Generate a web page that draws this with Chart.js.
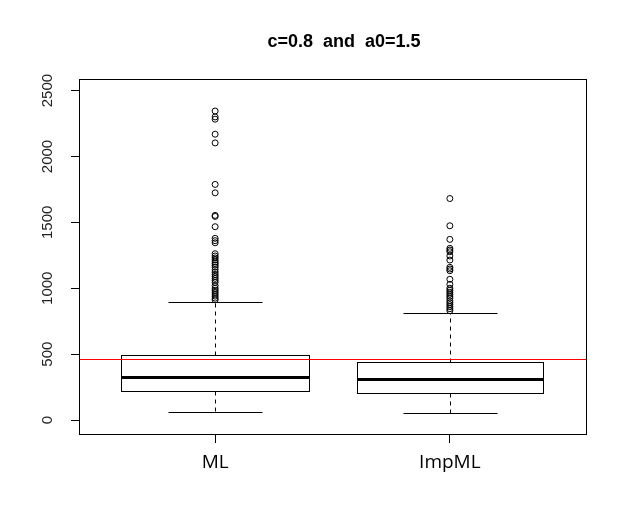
<!DOCTYPE html>
<html>
<head>
<meta charset="utf-8">
<script src="https://cdn.jsdelivr.net/npm/chart.js@4.4.0/dist/chart.umd.min.js"></script>
<style>
  html, body { margin: 0; padding: 0; background: #fff; }
  #wrap { width: 627px; height: 532px; }
</style>
</head>
<body>
<div id="wrap"><canvas id="chart"></canvas></div>
<script>
var groups = ["ML", "ImpML"];
var whiskerLow = [63, 53];
var q1 = [220, 207];
var medians = [326, 311];
var q3 = [492, 444];
var whiskerHigh = [896, 815];

var outliersML = [2345, 2300, 2283, 2169, 2103, 1788, 1724, 1553, 1545, 1467,
  1379, 1361, 1345, 1262, 1245, 1230, 1215, 1200, 1188, 1175, 1160, 1140,
  1122, 1105, 1090, 1075, 1060, 1045, 1020, 1000, 985, 970, 955, 940, 925, 912];
var outliersImpML = [1681, 1474, 1371, 1303, 1290, 1277, 1245, 1214, 1159, 1146,
  1133, 1068, 1030, 1000, 985, 970, 955, 940, 925, 905, 890, 875, 860, 845, 830];

var refLine = 462;
var yTicks = [0, 500, 1000, 1500, 2000, 2500];
var title = "c=0.8  and  a0=1.5";

function toPoints(g, vals) {
  return vals.map(function (v) { return { x: g, y: v }; });
}

// snap to the middle of a pixel so 1px lines stay crisp
function px(v) { return Math.round(v) + 0.5; }

// boxes, whiskers, reference line, frame and title
var boxPlugin = {
  id: 'boxes',
  beforeDatasetsDraw: function (chart) {
    var ctx = chart.ctx, xs = chart.scales.x, ys = chart.scales.y;
    ctx.save();
    ctx.strokeStyle = '#000';
    groups.forEach(function (g, i) {
      var cx = px(xs.getPixelForValue(i + 1));
      var hw = Math.round(xs.getPixelForValue(i + 1.4) - cx);
      var cw = Math.round(hw / 2);
      var top = px(ys.getPixelForValue(q3[i])), bot = px(ys.getPixelForValue(q1[i]));
      var hi = px(ys.getPixelForValue(whiskerHigh[i])), lo = px(ys.getPixelForValue(whiskerLow[i]));
      var med = Math.round(ys.getPixelForValue(medians[i]));
      // dashed whiskers
      ctx.lineWidth = 1;
      ctx.setLineDash([4, 4]);
      ctx.beginPath();
      ctx.moveTo(cx, top); ctx.lineTo(cx, hi);
      ctx.moveTo(cx, bot); ctx.lineTo(cx, lo);
      ctx.stroke();
      ctx.setLineDash([]);
      // caps
      ctx.beginPath();
      ctx.moveTo(cx - cw, hi); ctx.lineTo(cx + cw, hi);
      ctx.moveTo(cx - cw, lo); ctx.lineTo(cx + cw, lo);
      ctx.stroke();
      // box
      ctx.fillStyle = '#fff';
      ctx.fillRect(cx - hw, top, 2 * hw, bot - top);
      ctx.strokeRect(cx - hw, top, 2 * hw, bot - top);
      // median
      ctx.lineWidth = 3;
      ctx.beginPath();
      ctx.moveTo(cx - hw, med + 0.5); ctx.lineTo(cx + hw, med + 0.5);
      ctx.stroke();
    });
    ctx.restore();
  },
  afterDatasetsDraw: function (chart) {
    var ctx = chart.ctx, a = chart.chartArea, ys = chart.scales.y;
    ctx.save();
    var ry = px(ys.getPixelForValue(refLine));
    ctx.strokeStyle = '#ff0000';
    ctx.lineWidth = 1;
    ctx.beginPath();
    ctx.moveTo(a.left, ry); ctx.lineTo(a.right, ry);
    ctx.stroke();
    ctx.strokeStyle = '#000';
    ctx.strokeRect(px(a.left), px(a.top), Math.round(a.right - a.left), Math.round(a.bottom - a.top));
    ctx.fillStyle = '#000';
    ctx.font = 'bold 18px "Liberation Sans", Arial, sans-serif';
    ctx.textAlign = 'center';
    ctx.textBaseline = 'alphabetic';
    ctx.fillText(title, 344, 47);
    ctx.restore();
  }
};

var chart = new Chart(document.getElementById('chart'), {
  type: 'scatter',
  data: {
    datasets: [{
      label: groups[0],
      data: toPoints(1, outliersML)
    }, {
      label: groups[1],
      data: toPoints(2, outliersImpML)
    }]
  },
  options: {
    responsive: true,
    maintainAspectRatio: false,
    animation: false,
    layout: { padding: { top: 79, right: 41, left: 0, bottom: 0 } },
    elements: {
      point: {
        radius: 3,
        borderWidth: 1,
        borderColor: '#000',
        backgroundColor: 'rgba(0,0,0,0)'
      }
    },
    plugins: {
      legend: { display: false },
      tooltip: { enabled: false }
    },
    scales: {
      x: {
        type: 'linear',
        min: 0.42,
        max: 2.58,
        afterBuildTicks: function (s) { s.ticks = [{ value: 1 }, { value: 2 }]; },
        afterFit: function (s) { s.height = 98; },
        ticks: {
          autoSkip: false,
          minRotation: 0,
          maxRotation: 0,
          padding: 8,
          color: '#000',
          font: { family: '"Open Sans", sans-serif', size: 19 },
          callback: function (v) { return groups[v - 1]; }
        },
        grid: { drawOnChartArea: false, tickLength: 9, color: '#000' },
        border: { display: false }
      },
      y: {
        min: -106,
        max: 2588,
        afterBuildTicks: function (s) {
          s.ticks = yTicks.map(function (v) { return { value: v }; });
        },
        afterFit: function (s) { s.width = 79; },
        ticks: {
          minRotation: 90,
          maxRotation: 90,
          crossAlign: 'center',
          padding: 6,
          color: '#222',
          font: { family: '"Liberation Sans", Arial, sans-serif', size: 15 },
          callback: function (v) { return String(v); }
        },
        grid: { drawOnChartArea: false, tickLength: 8, color: '#000' },
        border: { display: false }
      }
    }
  },
  plugins: [boxPlugin]
});
</script>
</body>
</html>
